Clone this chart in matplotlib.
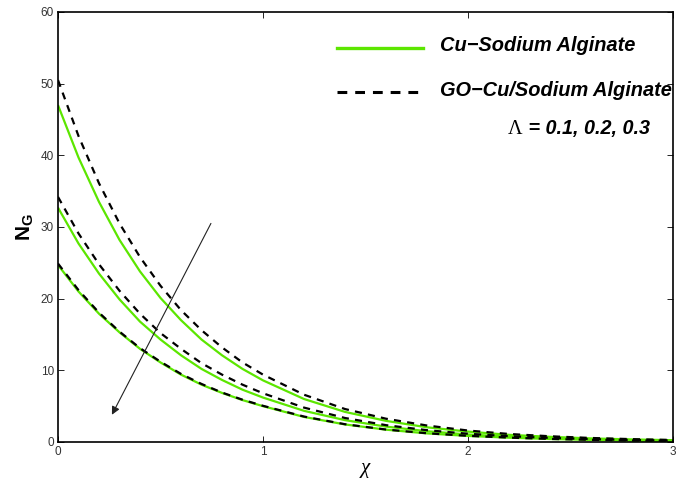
import matplotlib
matplotlib.use("Agg")
import matplotlib.pyplot as plt
from matplotlib.lines import Line2D

plt.rcParams['font.family'] = ['Liberation Sans', 'DejaVu Sans']
plt.rcParams['mathtext.fontset'] = 'custom'
plt.rcParams['mathtext.rm'] = 'Liberation Sans'
plt.rcParams['mathtext.bf'] = 'Liberation Sans:bold'
plt.rcParams['mathtext.it'] = 'Liberation Serif:italic'

chi = [0, 0.1, 0.2, 0.3, 0.4, 0.5, 0.6, 0.7, 0.8, 0.9, 1.0,
       1.2, 1.4, 1.6, 1.8, 2.0, 2.2, 2.4, 2.6, 2.8, 3.0]

# Cu-Sodium Alginate (solid green), Lambda = 0.1, 0.2, 0.3
cu_l1 = [47.0, 39.7, 33.5, 28.2, 23.8, 20.1, 17.0, 14.3, 12.1, 10.2, 8.6,
         6.0, 4.2, 2.95, 2.05, 1.45, 1.0, 0.72, 0.5, 0.36, 0.25]
cu_l2 = [32.7, 27.7, 23.5, 19.9, 16.8, 14.3, 12.1, 10.2, 8.66, 7.3, 6.2,
         4.35, 3.05, 2.15, 1.5, 1.05, 0.74, 0.52, 0.37, 0.26, 0.18]
cu_l3 = [24.7, 21.0, 17.9, 15.3, 13.0, 11.1, 9.4, 8.0, 6.85, 5.85, 5.0,
         3.5, 2.45, 1.72, 1.2, 0.85, 0.6, 0.42, 0.3, 0.21, 0.15]

# GO-Cu/Sodium Alginate (dashed black)
go_l1 = [50.5, 42.7, 36.1, 30.5, 25.8, 21.8, 18.4, 15.6, 13.2, 11.1, 9.4,
         6.6, 4.6, 3.25, 2.3, 1.6, 1.12, 0.8, 0.56, 0.4, 0.28]
go_l2 = [34.2, 29.1, 24.8, 21.1, 17.9, 15.2, 13.0, 11.0, 9.4, 8.0, 6.8,
         4.8, 3.35, 2.35, 1.65, 1.15, 0.81, 0.57, 0.4, 0.28, 0.2]
go_l3 = [24.9, 21.2, 18.05, 15.4, 13.1, 11.2, 9.5, 8.1, 6.9, 5.9, 5.05,
         3.55, 2.48, 1.74, 1.22, 0.86, 0.61, 0.43, 0.3, 0.21, 0.15]

x_ticks = [0, 1, 2, 3]
y_ticks = [0, 10, 20, 30, 40, 50, 60]

green = '#5CE600'
dash_pat = (0, (3.2, 2.8))

W, H = 685, 488
fig = plt.figure(figsize=(W / 100, H / 100), dpi=100)
ax = fig.add_axes([58 / W, 1 - 442 / H, (673 - 58) / W, (442 - 12) / H])

for ys in (cu_l1, cu_l2, cu_l3):
    ax.plot(chi, ys, color=green, lw=1.6, zorder=2, solid_capstyle='butt')
for ys in (go_l1, go_l2, go_l3):
    ax.plot(chi, ys, color='black', lw=1.6, ls=dash_pat, zorder=3)

ax.set_xlim(0, 3)
ax.set_ylim(0, 60)
ax.set_xticks(x_ticks)
ax.set_yticks(y_ticks)
ax.tick_params(direction='in', length=4, width=0.6, top=True, right=True,
               labelsize=8.5, labelcolor='#333333', pad=3)
for s in ax.spines.values():
    s.set_linewidth(1.2)

ax.set_xlabel(r'$\chi$', fontsize=15, labelpad=2)
ax.set_ylabel(r'$\mathbf{N}_\mathbf{G}$', fontsize=15, labelpad=4)

# legend (no frame), drawn in figure pixel coordinates
def fx(px):
    return px / W

def fy(py):
    return 1 - py / H

fig.add_artist(Line2D([fx(337), fx(423)], [fy(48), fy(48)], color=green, lw=2.4,
                      transform=fig.transFigure))
fig.add_artist(Line2D([fx(337), fx(423)], [fy(92), fy(92)], color='black', lw=2.2,
                      ls=(0, (3.2, 2.6)), transform=fig.transFigure))
fig.text(fx(440), fy(46), 'Cu\u2212Sodium Alginate', fontsize=14.4, weight='bold',
         style='italic', va='center', ha='left')
fig.text(fx(440), fy(90), 'GO\u2212Cu/Sodium Alginate', fontsize=14.4, weight='bold',
         style='italic', va='center', ha='left')
fig.text(fx(508), fy(134), '\u039b', fontsize=14.5, family='Liberation Serif',
         va='baseline', ha='left')
fig.text(fx(523), fy(134), ' = 0.1, 0.2, 0.3', fontsize=14.2, weight='bold',
         style='italic', va='baseline', ha='left')

ax.annotate('', xy=(0.263, 3.8), xytext=(0.746, 30.5),
            arrowprops=dict(arrowstyle='-|>', color='#222222', lw=0.8,
                            mutation_scale=12, shrinkA=0, shrinkB=0))

fig.savefig('out.png', dpi=100)
